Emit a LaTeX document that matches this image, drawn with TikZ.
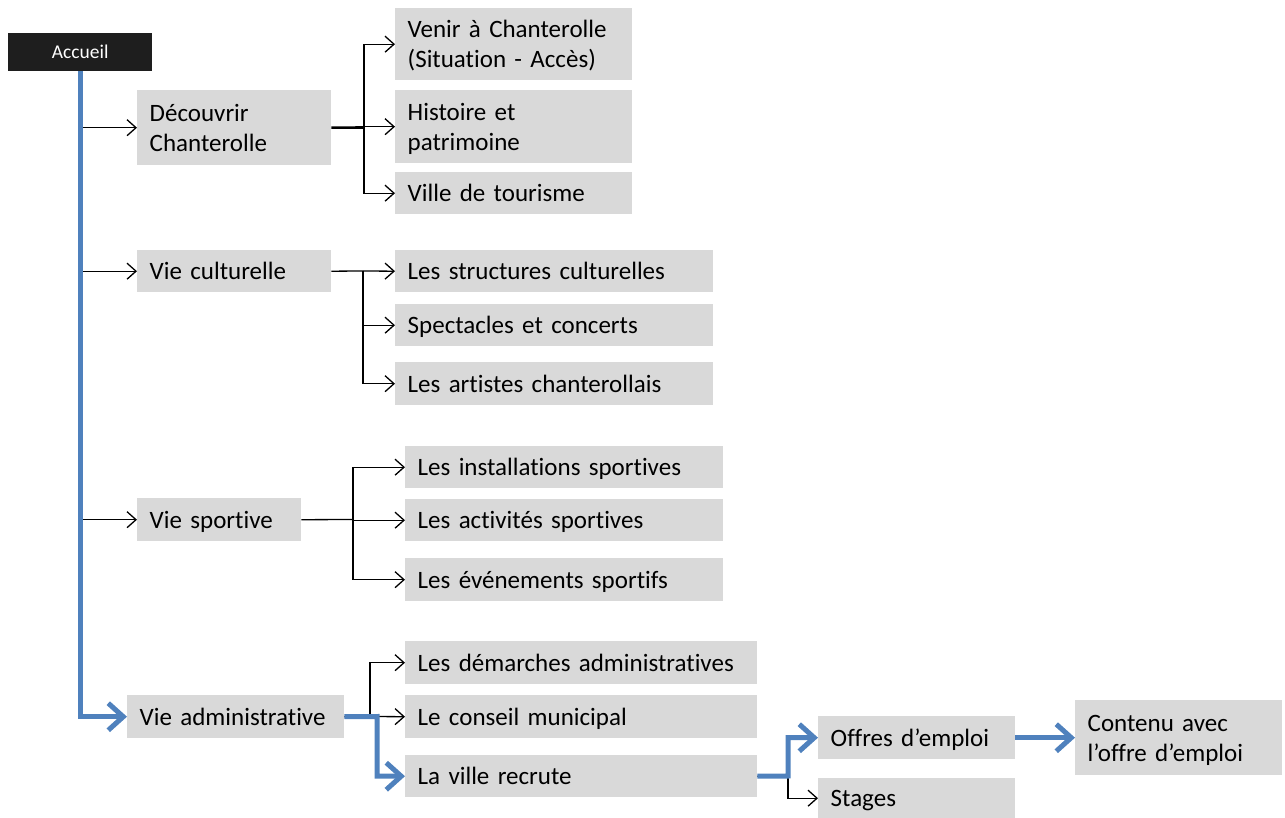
\documentclass[tikz,border=0pt]{standalone}
\usepackage{fontspec}
\setmainfont{Carlito}[Ligatures=NoCommon]
\usetikzlibrary{arrows.meta}

\definecolor{boxgray}{RGB}{217,217,217}
\definecolor{pathblue}{RGB}{79,129,189}
\definecolor{headblack}{RGB}{30,30,30}

% strut giving every label line the same height and depth
\newcommand{\lblstrut}{\rule[-4pt]{0pt}{25pt}}

\tikzset{
  pagebox/.style n args={2}{
    fill=boxgray, draw=none, anchor=north west,
    minimum width=#1, minimum height=#2,
    inner xsep=12.5pt, inner ysep=0pt,
    /utils/exec={\pgfmathsetlengthmacro\boxtw{#1-25}},
    text width=\boxtw, align=left,
    font=\fontsize{25}{30}\selectfont,
    execute at begin node=\lblstrut,
    execute at end node=\lblstrut
  },
  rootbox/.style={
    fill=headblack, draw=none, anchor=north west, text=white,
    minimum width=144, minimum height=38, inner sep=0pt,
    font=\fontsize{19.5}{23}\selectfont
  },
  tree/.style={draw=black, line width=1.3pt,
    -{Straight Barb[length=9pt,width=16pt]}},
  plain/.style={draw=black, line width=1.3pt},
  blueline/.style={draw=pathblue, line width=5pt,
    -{Straight Barb[length=15pt,width=27pt]}}
}

\begin{document}
\begin{tikzpicture}[x=1pt,y=-1pt]
\useasboundingbox (0,0) rectangle (1285,818);

% root
\node[rootbox] (acc) at (8,33) {Accueil};

% first level
\node[pagebox={194}{75}] (dc) at (137,90) {Découvrir\\Chanterolle};
\node[pagebox={194}{42}] (vc) at (137,250) {Vie culturelle};
\node[pagebox={164}{43}] (vs) at (137,498) {Vie sportive};
\node[pagebox={217}{43}] (va) at (127,695) {Vie administrative};

% Découvrir Chanterolle
\node[pagebox={237}{72}] (venir) at (395,8) {Venir à Chanterolle\\(Situation - Accès)};
\node[pagebox={237}{73}] (hist) at (395,90) {Histoire et\\patrimoine};
\node[pagebox={237}{42}] (tour) at (395,172) {Ville de tourisme};

% Vie culturelle
\node[pagebox={318}{42}] (struct) at (395,250) {Les structures culturelles};
\node[pagebox={318}{42}] (spect) at (395,304) {Spectacles et concerts};
\node[pagebox={318}{43}] (artist) at (395,362) {Les artistes chanterollais};

% Vie sportive
\node[pagebox={318}{42}] (inst) at (405,446) {Les installations sportives};
\node[pagebox={318}{42}] (activ) at (405,499) {Les activités sportives};
\node[pagebox={318}{43}] (even) at (405,558) {Les événements sportifs};

% Vie administrative
\node[pagebox={352}{43}] (demar) at (405,641) {Les démarches administratives};
\node[pagebox={352}{43}] (conseil) at (405,695) {Le conseil municipal};
\node[pagebox={352}{42}] (ville) at (405,755) {La ville recrute};

% La ville recrute
\node[pagebox={197}{43}] (offres) at (818,716) {Offres d’emploi};
\node[pagebox={197}{40}] (stages) at (818,778) {Stages};
\node[pagebox={207}{75}] (contenu) at (1075,700) {Contenu avec\\l’offre d’emploi};

% junction points of the branches
\coordinate (dcj) at (364,127.5);
\coordinate (vcj) at (363,271);
\coordinate (vsj) at (353,519.5);
\coordinate (vaj) at (370,716.5);
\coordinate (vab) at (377,716.5);
\coordinate (vrj) at (788,776);

% links from the trunk
\draw[tree] (acc.south |- dc.west) -- (dc.west);
\draw[tree] (acc.south |- vc.west) -- (vc.west);
\draw[tree] (acc.south |- vs.west) -- (vs.west);

% Découvrir Chanterolle branch
\draw[draw=black, line width=2.6pt] (dc.east) -- (dcj);
\draw[tree] (dcj) |- (venir.west);
\draw[tree] (dcj |- hist.west) -- (hist.west);
\draw[tree] (dcj) |- (tour.west);

% Vie culturelle branch
\draw[plain] (vc.east) -- (vcj);
\draw[tree] (vcj) -- (struct.west);
\draw[tree] (vcj) |- (spect.west);
\draw[tree] (vcj) |- (artist.west);

% Vie sportive branch
\draw[plain] (vs.east) -- (vsj);
\draw[tree] (vsj) |- (inst.west);
\draw[tree] (vsj |- activ.west) -- (activ.west);
\draw[tree] (vsj) |- (even.west);

% Vie administrative branch
\draw[plain] (va.east) -- (vaj);
\draw[tree] (vaj) |- (demar.west);
\draw[tree] (vaj) -- (conseil.west);

% La ville recrute branch
\draw[plain] (ville.east) -- (vrj);
\draw[tree] (vrj) |- (stages.west);

% highlighted path
\draw[blueline] (acc.south) |- (va.west);
\draw[blueline] (va.east) -- (vab) |- (ville.west);
\draw[blueline] (ville.east) -- (vrj) |- (offres.west);
\draw[blueline] (offres.east) -- (contenu.west);
\end{tikzpicture}
\end{document}
